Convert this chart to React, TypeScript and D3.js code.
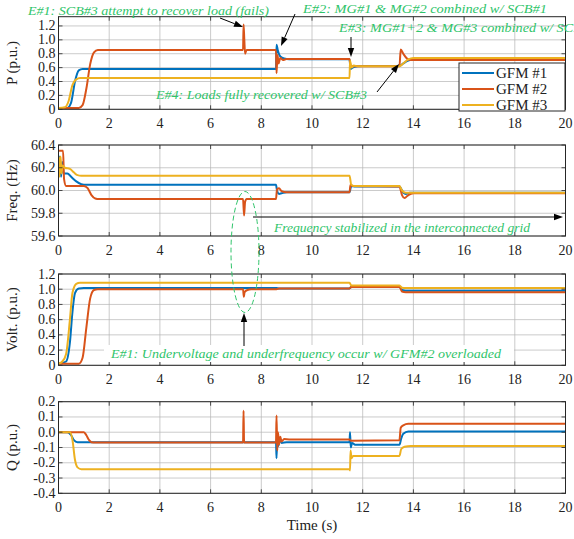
import React from 'react';
import * as d3 from 'd3';

// ---------- data ----------
const TIME_TICKS = [0, 2, 4, 6, 8, 10, 12, 14, 16, 18, 20];
const SERIES_NAMES = ['GFM #1', 'GFM #2', 'GFM #3'];
const COLORS = ['#0072BD', '#D95319', '#EDB120'];

const P_TICKS = [0, 0.2, 0.4, 0.6, 0.8, 1.0, 1.2];
const F_TICKS = [59.6, 59.8, 60.0, 60.2, 60.4];
const V_TICKS = [0, 0.2, 0.4, 0.6, 0.8, 1.0, 1.2];
const Q_TICKS = [-0.4, -0.3, -0.2, -0.1, 0.0, 0.1, 0.2];

type Pt = [number, number];

const P_GFM1: Pt[] = [[0,0.02],[0.35,0.02],[0.5,0.1],[0.65,0.4],[0.8,0.56],[0.95,0.58],[8.58,0.58],[8.6,0.93],[8.65,0.85],[8.75,0.76],[8.9,0.73],[9.1,0.72],[11.48,0.72],[11.52,0.58],[11.6,0.6],[11.8,0.62],[12,0.625],[13.45,0.625],[13.6,0.66],[13.8,0.7],[14,0.72],[20,0.72]];
const P_GFM2: Pt[] = [[0,0.02],[0.8,0.02],[0.95,0.06],[1.1,0.3],[1.25,0.65],[1.4,0.82],[1.55,0.855],[7.28,0.855],[7.3,1.22],[7.33,1.0],[7.36,0.8],[7.42,0.855],[8.58,0.855],[8.6,0.52],[8.64,0.78],[8.68,0.66],[8.75,0.74],[8.85,0.71],[9,0.725],[11.48,0.725],[11.52,0.62],[13.45,0.62],[13.5,0.86],[13.6,0.8],[13.75,0.73],[13.9,0.71],[20,0.71]];
const P_GFM3: Pt[] = [[0,0.02],[0.25,0.03],[0.4,0.12],[0.55,0.35],[0.7,0.43],[0.85,0.45],[11.48,0.45],[11.5,0.7],[11.56,0.6],[11.65,0.63],[11.8,0.62],[13.45,0.62],[13.6,0.66],[13.8,0.72],[14,0.74],[20,0.74]];

const F_GFM1: Pt[] = [[0,60.2],[0.05,60.3],[0.1,60.12],[0.15,60.25],[0.2,60.15],[0.35,60.15],[0.5,60.12],[0.7,60.08],[0.9,60.055],[1.1,60.05],[8.58,60.05],[8.62,60.0],[8.7,59.97],[8.8,59.975],[9,59.985],[11.48,59.985],[11.55,60.04],[11.7,60.035],[13.45,60.035],[13.6,59.98],[13.7,59.97],[13.85,59.98],[20,59.98]];
const F_GFM2: Pt[] = [[0,60.35],[0.18,60.35],[0.22,60.1],[0.3,60.04],[1.0,60.04],[1.15,60.02],[1.3,59.96],[1.45,59.93],[1.6,59.925],[7.28,59.925],[7.32,59.78],[7.36,59.9],[7.42,59.925],[8.58,59.925],[8.62,60.01],[8.7,60.02],[8.8,59.995],[9,59.985],[11.48,59.985],[11.52,60.05],[11.6,60.04],[13.45,60.035],[13.55,59.96],[13.65,59.935],[13.8,59.96],[14,59.975],[20,59.975]];
const F_GFM3: Pt[] = [[0,60.3],[0.04,60.12],[0.08,60.3],[0.12,60.15],[0.16,60.22],[0.25,60.2],[0.45,60.19],[0.6,60.16],[0.75,60.135],[0.9,60.13],[11.48,60.13],[11.55,60.05],[11.65,60.04],[13.45,60.04],[13.55,60.0],[13.7,59.98],[20,59.98]];

const V_GFM1: Pt[] = [[0,0.02],[0.3,0.05],[0.45,0.3],[0.55,0.7],[0.65,0.95],[0.8,1.01],[1,1.015],[8.6,1.015],[8.7,1.01],[11.48,1.01],[11.55,1.03],[13.45,1.03],[13.55,0.99],[13.7,0.98],[20,0.98]];
const V_GFM2: Pt[] = [[0,0.02],[0.8,0.02],[0.95,0.1],[1.1,0.5],[1.25,0.88],[1.4,0.99],[1.55,1.0],[7.28,1.0],[7.31,0.9],[7.34,0.96],[7.45,0.99],[7.6,1.0],[8.6,1.0],[8.7,1.01],[11.48,1.01],[11.55,1.03],[13.45,1.03],[13.55,0.97],[13.7,0.96],[20,0.96]];
const V_GFM3: Pt[] = [[0,0.02],[0.15,0.05],[0.3,0.15],[0.45,0.6],[0.55,0.95],[0.7,1.07],[0.85,1.085],[11.48,1.085],[11.55,1.05],[13.45,1.05],[13.55,1.02],[13.7,1.015],[20,1.015]];

const Q_GFM1: Pt[] = [[0,0],[0.35,0],[0.5,-0.02],[0.6,-0.05],[0.75,-0.065],[8.58,-0.065],[8.6,-0.17],[8.63,-0.04],[8.67,-0.09],[8.72,-0.05],[8.8,-0.07],[9,-0.065],[11.48,-0.065],[11.5,0.0],[11.53,-0.1],[11.58,-0.07],[11.7,-0.082],[13.45,-0.082],[13.52,-0.04],[13.6,-0.01],[13.8,0.005],[20,0.005]];
const Q_GFM2: Pt[] = [[0,0],[1.0,0],[1.1,-0.02],[1.2,-0.05],[1.3,-0.065],[1.45,-0.068],[7.28,-0.068],[7.3,0.14],[7.32,-0.068],[8.58,-0.068],[8.6,0.11],[8.63,-0.12],[8.66,0.0],[8.7,-0.08],[8.75,-0.03],[8.8,-0.06],[8.9,-0.045],[9.1,-0.047],[11.48,-0.047],[11.52,-0.055],[13.45,-0.052],[13.5,0.03],[13.6,0.045],[13.8,0.055],[20,0.055]];
const Q_GFM3: Pt[] = [[0,0],[0.45,0],[0.55,-0.05],[0.65,-0.18],[0.75,-0.23],[0.9,-0.242],[11.48,-0.242],[11.5,-0.25],[11.52,-0.12],[11.56,-0.17],[11.62,-0.155],[13.45,-0.155],[13.52,-0.11],[13.65,-0.095],[13.9,-0.09],[20,-0.09]];

// ---------- layout ----------
const W = 574, H = 539;
const X0 = 58.5, X1 = 565.5;
const FONT = '"Liberation Serif", "DejaVu Serif", serif';
const GREEN = '#2fc46a';
const TICK_FS = 14;

interface Panel { top: number; bottom: number; domain: [number, number]; ticks: number[]; fmt: (v: number) => string; label: string; series: Pt[][]; }

const fmt1 = (v: number) => (v === 0 ? '0' : v.toFixed(1));
const PANELS: Panel[] = [
  { top: 16.7, bottom: 109.3, domain: [0, 1.333], ticks: P_TICKS, fmt: fmt1, label: 'P (p.u.)', series: [P_GFM1, P_GFM2, P_GFM3] },
  { top: 145, bottom: 236, domain: [59.6, 60.4], ticks: F_TICKS, fmt: (v) => v.toFixed(1), label: 'Freq. (Hz)', series: [F_GFM1, F_GFM2, F_GFM3] },
  { top: 274, bottom: 365.3, domain: [0, 1.2], ticks: V_TICKS, fmt: fmt1, label: 'Volt. (p.u.)', series: [V_GFM1, V_GFM2, V_GFM3] },
  { top: 401.7, bottom: 493.3, domain: [-0.4, 0.2], ticks: Q_TICKS, fmt: (v) => (Math.abs(v) < 1e-9 ? '0.0' : v.toFixed(1)), label: 'Q (p.u.)', series: [Q_GFM1, Q_GFM2, Q_GFM3] },
];

function Arrow({ x1, y1, x2, y2 }: { x1: number; y1: number; x2: number; y2: number }) {
  const ang = Math.atan2(y2 - y1, x2 - x1);
  const L = 9, Wd = 3.2;
  const bx = x2 - L * Math.cos(ang), by = y2 - L * Math.sin(ang);
  const px = -Math.sin(ang) * Wd, py = Math.cos(ang) * Wd;
  return (
    <g>
      <line x1={x1} y1={y1} x2={bx} y2={by} stroke="#000" strokeWidth={1} />
      <path d={`M${x2},${y2}L${bx + px},${by + py}L${bx - px},${by - py}Z`} fill="#000" />
    </g>
  );
}

export default function App() {
  const x = d3.scaleLinear().domain([0, 20]).range([X0, X1]);

  return (
    <svg width={W} height={H} style={{ position: 'absolute', left: 0, top: 0, background: '#fff' }} fontFamily={FONT}>
      <defs>
        {PANELS.map((p, i) => (
          <clipPath id={`clip${i}`} key={i}>
            <rect x={X0} y={p.top} width={X1 - X0} height={p.bottom - p.top} />
          </clipPath>
        ))}
      </defs>
      <rect x={0} y={0} width={W} height={H} fill="#fff" />
      {PANELS.map((p, i) => {
        const y = d3.scaleLinear().domain(p.domain).range([p.bottom, p.top]);
        const line = d3.line<Pt>().x((d) => x(d[0])).y((d) => y(d[1])).curve(d3.curveMonotoneX);
        return (
          <g key={i}>
            {TIME_TICKS.map((t) => (
              <line key={'gx' + t} x1={x(t)} x2={x(t)} y1={p.top} y2={p.bottom} stroke="#b4b4b4" strokeWidth={0.7} />
            ))}
            {p.ticks.map((v) => (
              <line key={'gy' + v} x1={X0} x2={X1} y1={y(v)} y2={y(v)} stroke="#b4b4b4" strokeWidth={0.7} />
            ))}
            <g clipPath={`url(#clip${i})`}>
              {p.series.map((s, k) => (
                <path key={k} d={line(s) || ''} fill="none" stroke={COLORS[k]} strokeWidth={2} strokeLinejoin="round" />
              ))}
            </g>
            <rect x={X0} y={p.top} width={X1 - X0} height={p.bottom - p.top} fill="none" stroke="#262626" strokeWidth={1} />
            {TIME_TICKS.map((t) => (
              <g key={'tx' + t}>
                <line x1={x(t)} x2={x(t)} y1={p.bottom} y2={p.bottom - 4} stroke="#262626" strokeWidth={0.8} />
                <line x1={x(t)} x2={x(t)} y1={p.top} y2={p.top + 4} stroke="#262626" strokeWidth={0.8} />
                <text x={x(t)} y={p.bottom + 19} fontSize={TICK_FS} textAnchor="middle" fill="#222">{t}</text>
              </g>
            ))}
            {p.ticks.map((v) => (
              <g key={'ty' + v}>
                <line x1={X0} x2={X0 + 4} y1={y(v)} y2={y(v)} stroke="#262626" strokeWidth={0.8} />
                <line x1={X1} x2={X1 - 4} y1={y(v)} y2={y(v)} stroke="#262626" strokeWidth={0.8} />
                <text x={X0 - 3} y={y(v) + 4.5} fontSize={TICK_FS} textAnchor="end" fill="#222">{p.fmt(v)}</text>
              </g>
            ))}
            <text transform={`translate(17,${(p.top + p.bottom) / 2}) rotate(-90)`} fontSize={15} textAnchor="middle" fill="#222">{p.label}</text>
          </g>
        );
      })}

      {/* legend */}
      <g>
        <rect x={459} y={63} width={106} height={48} fill="#fff" stroke="#262626" strokeWidth={1} />
        {SERIES_NAMES.map((n, k) => (
          <g key={n}>
            <line x1={462} x2={494} y1={73 + k * 16} y2={73 + k * 16} stroke={COLORS[k]} strokeWidth={2} />
            <text x={496} y={78 + k * 16} fontSize={15} fill="#222">{n}</text>
          </g>
        ))}
      </g>

      <text x={(X0 + X1) / 2} y={530} fontSize={15} textAnchor="middle" fill="#222">Time (s)</text>

      {/* annotations */}
      <g fontStyle="italic" fill={GREEN} fontSize={13}>
        <text x={28} y={15} textLength={241} lengthAdjust="spacingAndGlyphs">E#1: SCB#3 attempt to recover load (fails)</text>
        <text x={303} y={13} textLength={244} lengthAdjust="spacingAndGlyphs">E#2: MG#1 &amp; MG#2 combined w/ SCB#1</text>
        <text x={339} y={32} textLength={257} lengthAdjust="spacingAndGlyphs">E#3: MG#1+2 &amp; MG#3 combined w/ SCB#1</text>
        <text x={156} y={99} textLength={211} lengthAdjust="spacingAndGlyphs">E#4: Loads fully recovered w/ SCB#3</text>
        <text x={274} y={232} textLength={256} lengthAdjust="spacingAndGlyphs">Frequency stabilized in the interconnected grid</text>
      </g>
      <rect x={104} y={345} width={410} height={17} fill="#fff" />
      <text x={111} y={358} fontStyle="italic" fill={GREEN} fontSize={13} textLength={390} lengthAdjust="spacingAndGlyphs">E#1: Undervoltage and underfrequency occur w/ GFM#2 overloaded</text>

      <ellipse cx={245} cy={252} rx={14} ry={60.5} fill="none" stroke={GREEN} strokeWidth={1} strokeDasharray="5,3" />

      <Arrow x1={220} y1={18} x2={243} y2={27} />
      <Arrow x1={295} y1={14} x2={281} y2={46} />
      <Arrow x1={351} y1={37} x2={351} y2={57} />
      <Arrow x1={377} y1={92} x2={399} y2={64} />
      <Arrow x1={253} y1={217} x2={563} y2={217} />
      <Arrow x1={244} y1={346} x2={244} y2={313} />
    </svg>
  );
}
